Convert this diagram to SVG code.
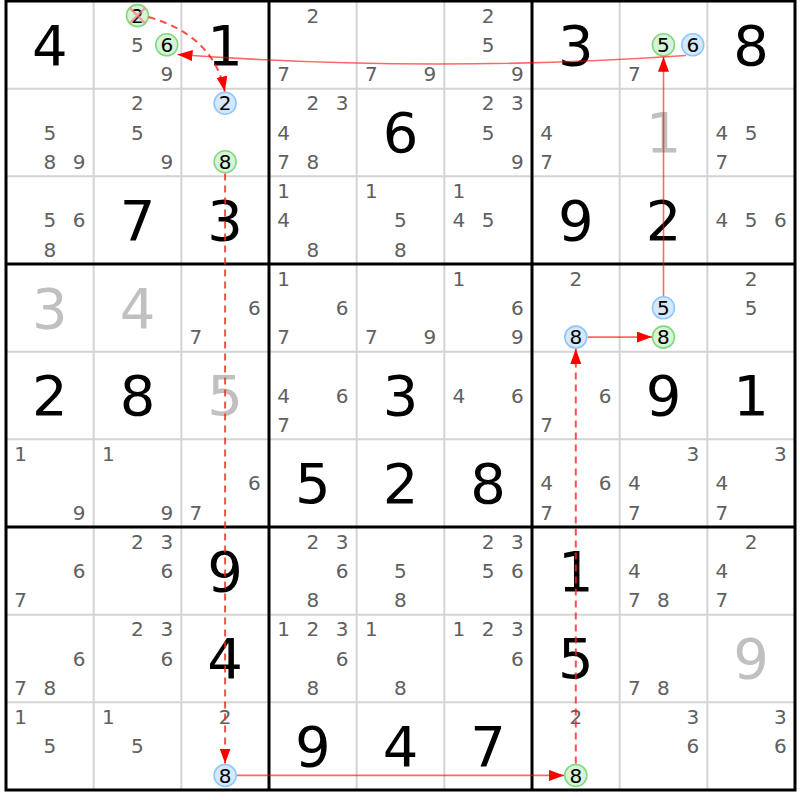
<svg xmlns="http://www.w3.org/2000/svg" width="800" height="800" viewBox="0 0 800 800">
<style>
text{font-family:"DejaVu Sans","Liberation Sans",sans-serif;text-anchor:middle}
.g{font-size:56px;fill:#000}
.s{font-size:56px;fill:#c0c0c0}
.c{font-size:20px;fill:#606060}
.k{font-size:20px;fill:#000}
.gc{fill:#d6f5d6;stroke:#80d880;stroke-width:1.6}
.bc{fill:#d4e9fd;stroke:#90c6f8;stroke-width:1.6}
.thin{stroke:#d4d4d4;stroke-width:2}
.thick{stroke:#000;stroke-width:3}
.sol{fill:none;stroke:#ff0000;stroke-opacity:0.6;stroke-width:1.6}
.dsh{fill:none;stroke:#ff2020;stroke-opacity:0.8;stroke-width:2;stroke-dasharray:7,5}
.x{stroke:#ff8080;stroke-opacity:0.7;stroke-width:2.5}
</style>
<defs>
<marker id="ah" markerUnits="userSpaceOnUse" markerWidth="15" markerHeight="11" refX="15" refY="5.5" orient="auto">
<path d="M0,0 L15,5.5 L0,11 z" fill="#ff0000"/>
</marker>
</defs>
<rect width="800" height="800" fill="#fff"/>
<g id="grid">
<path class="thin" d="M93.67,1V790M181.33,1V790M356.67,1V790M444.33,1V790M619.67,1V790M707.33,1V790M6,88.67H795M6,176.33H795M6,351.67H795M6,439.33H795M6,614.67H795M6,702.33H795"/>
<path class="thick" d="M269,1V790M532,1V790M6,264H795M6,527H795"/>
<rect x="6" y="1" width="789" height="789" fill="none" class="thick"/>
</g>
<!-- Row 1 -->
<g id="r1c1" transform="translate(6,1)"><text class="g" x="43.8" y="63.5">4</text></g>
<g id="r1c2" transform="translate(93.67,1)">
<circle class="gc" cx="43.8" cy="14.6" r="11"/><text class="k" x="43.8" y="21.8">2</text>
<path class="x" d="M36.3,7.1L51.3,22.1M51.3,7.1L36.3,22.1"/>
<text class="c" x="43.8" y="51">5</text>
<circle class="gc" cx="73.1" cy="43.8" r="11"/><text class="k" x="73.1" y="51">6</text>
<text class="c" x="73.1" y="80.3">9</text></g>
<g id="r1c3" transform="translate(181.33,1)"><text class="g" x="43.8" y="63.5">1</text></g>
<g id="r1c4" transform="translate(269,1)"><text class="c" x="43.8" y="21.8">2</text><text class="c" x="14.6" y="80.3">7</text></g>
<g id="r1c5" transform="translate(356.67,1)"><text class="c" x="14.6" y="80.3">7</text><text class="c" x="73.1" y="80.3">9</text></g>
<g id="r1c6" transform="translate(444.33,1)"><text class="c" x="43.8" y="21.8">2</text><text class="c" x="43.8" y="51">5</text><text class="c" x="73.1" y="80.3">9</text></g>
<g id="r1c7" transform="translate(532,1)"><text class="g" x="43.8" y="63.5">3</text></g>
<g id="r1c8" transform="translate(619.67,1)">
<circle class="gc" cx="43.8" cy="43.8" r="11"/><text class="k" x="43.8" y="51">5</text>
<circle class="bc" cx="73.1" cy="43.8" r="11"/><text class="k" x="73.1" y="51">6</text>
<text class="c" x="14.6" y="80.3">7</text></g>
<g id="r1c9" transform="translate(707.33,1)"><text class="g" x="43.8" y="63.5">8</text></g>
<!-- Row 2 -->
<g id="r2c1" transform="translate(6,88.67)"><text class="c" x="43.8" y="51">5</text><text class="c" x="43.8" y="80.3">8</text><text class="c" x="73.1" y="80.3">9</text></g>
<g id="r2c2" transform="translate(93.67,88.67)"><text class="c" x="43.8" y="21.8">2</text><text class="c" x="43.8" y="51">5</text><text class="c" x="73.1" y="80.3">9</text></g>
<g id="r2c3" transform="translate(181.33,88.67)">
<circle class="bc" cx="43.8" cy="14.6" r="11"/><text class="k" x="43.8" y="21.8">2</text>
<circle class="gc" cx="43.8" cy="73.1" r="11"/><text class="k" x="43.8" y="80.3">8</text></g>
<g id="r2c4" transform="translate(269,88.67)"><text class="c" x="43.8" y="21.8">2</text><text class="c" x="73.1" y="21.8">3</text><text class="c" x="14.6" y="51">4</text><text class="c" x="14.6" y="80.3">7</text><text class="c" x="43.8" y="80.3">8</text></g>
<g id="r2c5" transform="translate(356.67,88.67)"><text class="g" x="43.8" y="63.5">6</text></g>
<g id="r2c6" transform="translate(444.33,88.67)"><text class="c" x="43.8" y="21.8">2</text><text class="c" x="73.1" y="21.8">3</text><text class="c" x="43.8" y="51">5</text><text class="c" x="73.1" y="80.3">9</text></g>
<g id="r2c7" transform="translate(532,88.67)"><text class="c" x="14.6" y="51">4</text><text class="c" x="14.6" y="80.3">7</text></g>
<g id="r2c8" transform="translate(619.67,88.67)"><text class="s" x="43.8" y="63.5">1</text></g>
<g id="r2c9" transform="translate(707.33,88.67)"><text class="c" x="14.6" y="51">4</text><text class="c" x="43.8" y="51">5</text><text class="c" x="14.6" y="80.3">7</text></g>
<!-- Row 3 -->
<g id="r3c1" transform="translate(6,176.33)"><text class="c" x="43.8" y="51">5</text><text class="c" x="73.1" y="51">6</text><text class="c" x="43.8" y="80.3">8</text></g>
<g id="r3c2" transform="translate(93.67,176.33)"><text class="g" x="43.8" y="63.5">7</text></g>
<g id="r3c3" transform="translate(181.33,176.33)"><text class="g" x="43.8" y="63.5">3</text></g>
<g id="r3c4" transform="translate(269,176.33)"><text class="c" x="14.6" y="21.8">1</text><text class="c" x="14.6" y="51">4</text><text class="c" x="43.8" y="80.3">8</text></g>
<g id="r3c5" transform="translate(356.67,176.33)"><text class="c" x="14.6" y="21.8">1</text><text class="c" x="43.8" y="51">5</text><text class="c" x="43.8" y="80.3">8</text></g>
<g id="r3c6" transform="translate(444.33,176.33)"><text class="c" x="14.6" y="21.8">1</text><text class="c" x="14.6" y="51">4</text><text class="c" x="43.8" y="51">5</text></g>
<g id="r3c7" transform="translate(532,176.33)"><text class="g" x="43.8" y="63.5">9</text></g>
<g id="r3c8" transform="translate(619.67,176.33)"><text class="g" x="43.8" y="63.5">2</text></g>
<g id="r3c9" transform="translate(707.33,176.33)"><text class="c" x="14.6" y="51">4</text><text class="c" x="43.8" y="51">5</text><text class="c" x="73.1" y="51">6</text></g>
<!-- Row 4 -->
<g id="r4c1" transform="translate(6,264)"><text class="s" x="43.8" y="63.5">3</text></g>
<g id="r4c2" transform="translate(93.67,264)"><text class="s" x="43.8" y="63.5">4</text></g>
<g id="r4c3" transform="translate(181.33,264)"><text class="c" x="73.1" y="51">6</text><text class="c" x="14.6" y="80.3">7</text></g>
<g id="r4c4" transform="translate(269,264)"><text class="c" x="14.6" y="21.8">1</text><text class="c" x="73.1" y="51">6</text><text class="c" x="14.6" y="80.3">7</text></g>
<g id="r4c5" transform="translate(356.67,264)"><text class="c" x="14.6" y="80.3">7</text><text class="c" x="73.1" y="80.3">9</text></g>
<g id="r4c6" transform="translate(444.33,264)"><text class="c" x="14.6" y="21.8">1</text><text class="c" x="73.1" y="51">6</text><text class="c" x="73.1" y="80.3">9</text></g>
<g id="r4c7" transform="translate(532,264)"><text class="c" x="43.8" y="21.8">2</text>
<circle class="bc" cx="43.8" cy="73.1" r="11"/><text class="k" x="43.8" y="80.3">8</text></g>
<g id="r4c8" transform="translate(619.67,264)">
<circle class="bc" cx="43.8" cy="43.8" r="11"/><text class="k" x="43.8" y="51">5</text>
<circle class="gc" cx="43.8" cy="73.1" r="11"/><text class="k" x="43.8" y="80.3">8</text></g>
<g id="r4c9" transform="translate(707.33,264)"><text class="c" x="43.8" y="21.8">2</text><text class="c" x="43.8" y="51">5</text></g>
<!-- Row 5 -->
<g id="r5c1" transform="translate(6,351.67)"><text class="g" x="43.8" y="63.5">2</text></g>
<g id="r5c2" transform="translate(93.67,351.67)"><text class="g" x="43.8" y="63.5">8</text></g>
<g id="r5c3" transform="translate(181.33,351.67)"><text class="s" x="43.8" y="63.5">5</text></g>
<g id="r5c4" transform="translate(269,351.67)"><text class="c" x="14.6" y="51">4</text><text class="c" x="73.1" y="51">6</text><text class="c" x="14.6" y="80.3">7</text></g>
<g id="r5c5" transform="translate(356.67,351.67)"><text class="g" x="43.8" y="63.5">3</text></g>
<g id="r5c6" transform="translate(444.33,351.67)"><text class="c" x="14.6" y="51">4</text><text class="c" x="73.1" y="51">6</text></g>
<g id="r5c7" transform="translate(532,351.67)"><text class="c" x="73.1" y="51">6</text><text class="c" x="14.6" y="80.3">7</text></g>
<g id="r5c8" transform="translate(619.67,351.67)"><text class="g" x="43.8" y="63.5">9</text></g>
<g id="r5c9" transform="translate(707.33,351.67)"><text class="g" x="43.8" y="63.5">1</text></g>
<!-- Row 6 -->
<g id="r6c1" transform="translate(6,439.33)"><text class="c" x="14.6" y="21.8">1</text><text class="c" x="73.1" y="80.3">9</text></g>
<g id="r6c2" transform="translate(93.67,439.33)"><text class="c" x="14.6" y="21.8">1</text><text class="c" x="73.1" y="80.3">9</text></g>
<g id="r6c3" transform="translate(181.33,439.33)"><text class="c" x="73.1" y="51">6</text><text class="c" x="14.6" y="80.3">7</text></g>
<g id="r6c4" transform="translate(269,439.33)"><text class="g" x="43.8" y="63.5">5</text></g>
<g id="r6c5" transform="translate(356.67,439.33)"><text class="g" x="43.8" y="63.5">2</text></g>
<g id="r6c6" transform="translate(444.33,439.33)"><text class="g" x="43.8" y="63.5">8</text></g>
<g id="r6c7" transform="translate(532,439.33)"><text class="c" x="14.6" y="51">4</text><text class="c" x="73.1" y="51">6</text><text class="c" x="14.6" y="80.3">7</text></g>
<g id="r6c8" transform="translate(619.67,439.33)"><text class="c" x="73.1" y="21.8">3</text><text class="c" x="14.6" y="51">4</text><text class="c" x="14.6" y="80.3">7</text></g>
<g id="r6c9" transform="translate(707.33,439.33)"><text class="c" x="73.1" y="21.8">3</text><text class="c" x="14.6" y="51">4</text><text class="c" x="14.6" y="80.3">7</text></g>
<!-- Row 7 -->
<g id="r7c1" transform="translate(6,527)"><text class="c" x="73.1" y="51">6</text><text class="c" x="14.6" y="80.3">7</text></g>
<g id="r7c2" transform="translate(93.67,527)"><text class="c" x="43.8" y="21.8">2</text><text class="c" x="73.1" y="21.8">3</text><text class="c" x="73.1" y="51">6</text></g>
<g id="r7c3" transform="translate(181.33,527)"><text class="g" x="43.8" y="63.5">9</text></g>
<g id="r7c4" transform="translate(269,527)"><text class="c" x="43.8" y="21.8">2</text><text class="c" x="73.1" y="21.8">3</text><text class="c" x="73.1" y="51">6</text><text class="c" x="43.8" y="80.3">8</text></g>
<g id="r7c5" transform="translate(356.67,527)"><text class="c" x="43.8" y="51">5</text><text class="c" x="43.8" y="80.3">8</text></g>
<g id="r7c6" transform="translate(444.33,527)"><text class="c" x="43.8" y="21.8">2</text><text class="c" x="73.1" y="21.8">3</text><text class="c" x="43.8" y="51">5</text><text class="c" x="73.1" y="51">6</text></g>
<g id="r7c7" transform="translate(532,527)"><text class="g" x="43.8" y="63.5">1</text></g>
<g id="r7c8" transform="translate(619.67,527)"><text class="c" x="14.6" y="51">4</text><text class="c" x="14.6" y="80.3">7</text><text class="c" x="43.8" y="80.3">8</text></g>
<g id="r7c9" transform="translate(707.33,527)"><text class="c" x="43.8" y="21.8">2</text><text class="c" x="14.6" y="51">4</text><text class="c" x="14.6" y="80.3">7</text></g>
<!-- Row 8 -->
<g id="r8c1" transform="translate(6,614.67)"><text class="c" x="73.1" y="51">6</text><text class="c" x="14.6" y="80.3">7</text><text class="c" x="43.8" y="80.3">8</text></g>
<g id="r8c2" transform="translate(93.67,614.67)"><text class="c" x="43.8" y="21.8">2</text><text class="c" x="73.1" y="21.8">3</text><text class="c" x="73.1" y="51">6</text></g>
<g id="r8c3" transform="translate(181.33,614.67)"><text class="g" x="43.8" y="63.5">4</text></g>
<g id="r8c4" transform="translate(269,614.67)"><text class="c" x="14.6" y="21.8">1</text><text class="c" x="43.8" y="21.8">2</text><text class="c" x="73.1" y="21.8">3</text><text class="c" x="73.1" y="51">6</text><text class="c" x="43.8" y="80.3">8</text></g>
<g id="r8c5" transform="translate(356.67,614.67)"><text class="c" x="14.6" y="21.8">1</text><text class="c" x="43.8" y="80.3">8</text></g>
<g id="r8c6" transform="translate(444.33,614.67)"><text class="c" x="14.6" y="21.8">1</text><text class="c" x="43.8" y="21.8">2</text><text class="c" x="73.1" y="21.8">3</text><text class="c" x="73.1" y="51">6</text></g>
<g id="r8c7" transform="translate(532,614.67)"><text class="g" x="43.8" y="63.5">5</text></g>
<g id="r8c8" transform="translate(619.67,614.67)"><text class="c" x="14.6" y="80.3">7</text><text class="c" x="43.8" y="80.3">8</text></g>
<g id="r8c9" transform="translate(707.33,614.67)"><text class="s" x="43.8" y="63.5">9</text></g>
<!-- Row 9 -->
<g id="r9c1" transform="translate(6,702.33)"><text class="c" x="14.6" y="21.8">1</text><text class="c" x="43.8" y="51">5</text></g>
<g id="r9c2" transform="translate(93.67,702.33)"><text class="c" x="14.6" y="21.8">1</text><text class="c" x="43.8" y="51">5</text></g>
<g id="r9c3" transform="translate(181.33,702.33)"><text class="c" x="43.8" y="21.8">2</text>
<circle class="bc" cx="43.8" cy="73.1" r="11"/><text class="k" x="43.8" y="80.3">8</text></g>
<g id="r9c4" transform="translate(269,702.33)"><text class="g" x="43.8" y="63.5">9</text></g>
<g id="r9c5" transform="translate(356.67,702.33)"><text class="g" x="43.8" y="63.5">4</text></g>
<g id="r9c6" transform="translate(444.33,702.33)"><text class="g" x="43.8" y="63.5">7</text></g>
<g id="r9c7" transform="translate(532,702.33)"><text class="c" x="43.8" y="21.8">2</text>
<circle class="gc" cx="43.8" cy="73.1" r="11"/><text class="k" x="43.8" y="80.3">8</text></g>
<g id="r9c8" transform="translate(619.67,702.33)"><text class="c" x="73.1" y="21.8">3</text><text class="c" x="73.1" y="51">6</text></g>
<g id="r9c9" transform="translate(707.33,702.33)"><text class="c" x="73.1" y="21.8">3</text><text class="c" x="73.1" y="51">6</text></g>
<!-- Connectors -->
<g id="connectors">
<path class="dsh" d="M148.5,17 Q214,36 224.8,91.5" marker-end="url(#ah)"/>
<path class="dsh" d="M225.1,173.5 L225.1,763.5" marker-end="url(#ah)"/>
<path class="sol" d="M237,775.4 L564,775.4" marker-end="url(#ah)"/>
<path class="dsh" d="M575.8,763.5 L575.8,349" marker-end="url(#ah)"/>
<path class="sol" d="M587.8,337.1 L652,337.1" marker-end="url(#ah)"/>
<path class="sol" d="M663.5,296 L663.5,56.8" marker-end="url(#ah)"/>
<path class="sol" d="M686,55.5 Q430,73 177.5,54.5" marker-end="url(#ah)"/>
</g>
</svg>
